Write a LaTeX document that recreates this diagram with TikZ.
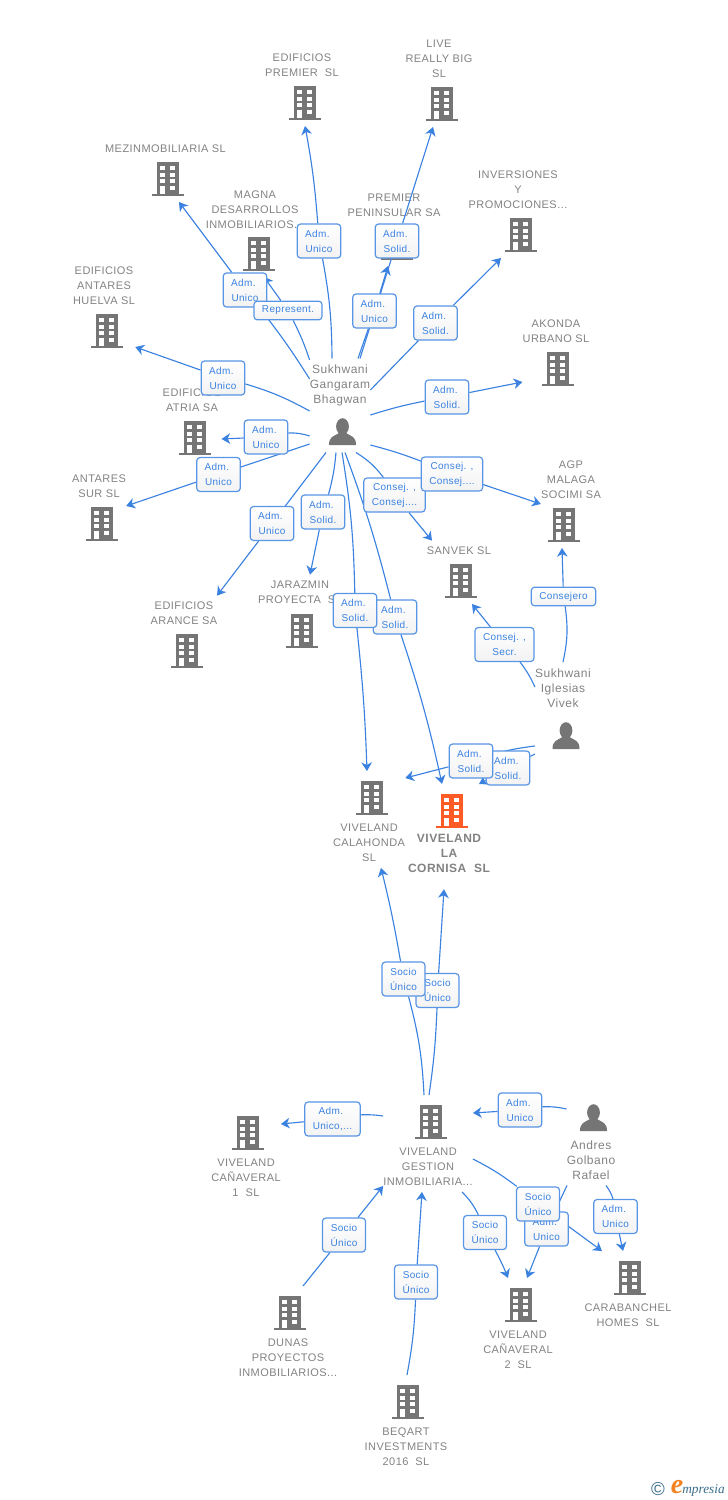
\documentclass[tikz,border=0pt]{standalone}
\usepackage{fontspec}
\usetikzlibrary{arrows.meta,fit,backgrounds}

\newfontfamily\lblfont[LetterSpace=4]{Liberation Sans}
\newfontfamily\whofont[LetterSpace=4.2]{Liberation Sans}
\newfontfamily\tagfont[LetterSpace=3.5]{Liberation Sans}
\newfontfamily\logoserif{Liberation Serif}

\definecolor{iconcol}{HTML}{757575}
\definecolor{hotcol}{HTML}{FF5B27}
\definecolor{lblcol}{HTML}{828282}
\definecolor{linkcol}{HTML}{3B82E0}
\definecolor{logocol}{HTML}{3A6E8C}
\definecolor{logohot}{HTML}{F58220}

\newcommand{\adm}{Adm.\kern2.4pt}

\tikzset{
  namelbl/.style={text=lblcol,align=center,inner xsep=0pt,inner ysep=4.5pt,yshift=-0.6pt,
    font=\lblfont\fontsize{8.25}{11.25}\selectfont},
  wholbl/.style={namelbl,font=\whofont\fontsize{9}{11.25}\selectfont},
  hotlbl/.style={namelbl,inner ysep=12pt,font=\whofont\bfseries\fontsize{9}{11.25}\selectfont},
  hitbox/.style={inner sep=0pt,outer sep=0pt},
  tagnode/.style={draw=linkcol!85,line width=0.9pt,rounded corners=2.5pt,
    top color=white,bottom color=black!5,text=linkcol,align=center,
    inner xsep=6pt,inner ysep=2pt,minimum height=25.5pt,
    font=\tagfont\fontsize{7.5}{11.25}\selectfont},
  link/.style={draw=linkcol,line width=0.85pt},
  linkto/.style={link,-{Stealth[length=6.5pt,width=8pt,inset=2pt]}},
  pics/building/.style={code={
    \fill[#1] (-11,-17) rectangle (11,14.5);
    \fill[#1] (-16,14.5) rectangle (16,17);
    \foreach \wy in {-13,-6.5,0.2}{
      \fill[white] (-8,\wy) rectangle (-2.7,\wy+4);
      \fill[white] (2,\wy) rectangle (7.3,\wy+4);
    }
    \fill[white] (-8,7) rectangle (-2.7,14.5);
    \fill[white] (2,7) rectangle (7.3,11);
    \coordinate (-nw) at (-16,-27);
    \coordinate (-se) at (16,23);
  }},
  pics/building/.default=iconcol,
  pics/person/.style={code={
    \fill[iconcol] (0,-5) ellipse [x radius=6.4,y radius=8.3];
    \fill[iconcol] (-13.5,13.5) .. controls (-13.5,5) and (-9,5) .. (-3.5,1.5)
      -- (3.5,1.5) .. controls (9,5) and (13.5,5) .. (13.5,13.5) -- cycle;
    \coordinate (-nw) at (-13,-24);
    \coordinate (-se) at (13,21);
  }},
}

\newcommand{\company}[5][namelbl]{%
  \pic (#2i) at (#3) {building};
  \node[#1] (#2l) at (#4) {#5};
  \node[fit=(#2i-nw)(#2i-se)(#2l),hitbox] (#2) {};
}
\newcommand{\who}[4]{%
  \pic (#1i) at (#2) {person};
  \node[wholbl] (#1l) at (#3) {#4};
  \node[fit=(#1i-nw)(#1i-se)(#1l),hitbox] (#1) {};
}

\begin{document}
\begin{tikzpicture}[x=0.75pt,y=-0.75pt]
  \useasboundingbox (0,0) rectangle (728,1500);

  % companies and people
  \begin{scope}[on background layer]
    \company{premier}{304.7,103}{302,64.5}{EDIFICIOS\\PREMIER\ \ SL}
    \company{live}{441.5,104}{439,58}{LIVE\\REALLY BIG\\SL}
    \company{mezin}{168,179}{165.5,148}{MEZINMOBILIARIA SL}
    \company{magna}{258.5,254}{255,209}{MAGNA\\DESARROLLOS\\INMOBILIARIOS...}
    \company{huelva}{107,331}{104,285}{EDIFICIOS\\ANTARES\\HUELVA SL}
    \company{peninsular}{397,243}{394,204.5}{PREMIER\\PENINSULAR SA}
    \company{inversiones}{520.5,235}{518,189}{INVERSIONES\\Y\\PROMOCIONES...}
    \company{akonda}{558,369}{556,330.5}{AKONDA\\URBANO SL}
    \company{atria}{195,438}{192,399.5}{EDIFICIOS\\ATRIA SA}
    \company{antares}{102,524}{99,485.5}{ANTARES\\SUR SL}
    \company{arance}{186.5,651}{184,612.5}{EDIFICIOS\\ARANCE SA}
    \company{jarazmin}{301.5,631}{300,591.5}{JARAZMIN\\PROYECTA\ \ SL}
    \company{agp}{564,525}{571,479}{AGP\\MALAGA\\SOCIMI SA}
    \company{sanvek}{461,581}{459,550}{SANVEK SL}
    \company{calahonda}{371.5,798}{369,842}{VIVELAND\\CALAHONDA\\SL}
    \company{gestion}{430.5,1122}{428,1166}{VIVELAND\\GESTION\\INMOBILIARIA...}
    \company{canaverala}{248,1133}{246,1177}{VIVELAND\\CAÑAVERAL\\1\ \ SL}
    \company{canaveralb}{520.5,1305}{518,1349}{VIVELAND\\CAÑAVERAL\\2\ \ SL}
    \company{carabanchel}{630,1278}{628,1314.5}{CARABANCHEL\\HOMES\ \ SL}
    \company{dunas}{290,1313}{288,1357}{DUNAS\\PROYECTOS\\INMOBILIARIOS...}
    \company{beqart}{408,1402}{406,1446}{BEQART\\INVESTMENTS\\2016\ \ SL}
    \pic (cornisai) at (451.5,811) {building=hotcol};
    \node[hotlbl] (cornisal) at (449,853) {VIVELAND\\LA\\CORNISA\ \ SL};
    \node[fit=(cornisai-nw)(cornisai-se)(cornisal),hitbox] (cornisa) {};
    \who{gangaram}{342.5,431.5}{340,384.5}{Sukhwani\\Gangaram\\Bhagwan}
    \who{iglesias}{566,735.5}{563,687}{Sukhwani\\Iglesias\\Vivek}
    \who{golbano}{593.5,1117.5}{591,1159}{Andres\\Golbano\\Rafael}
  \end{scope}

  % tags
  \node[tagnode] (tagpremier) at (319,241) {\adm\\Unico};
  \node[tagnode] (tagmezin) at (245,290) {\adm\\Unico};
  \node[tagnode,minimum height=14pt] (tagmagna) at (288,310.5) {Represent.};
  \node[tagnode] (tagpeninsular) at (374.5,311) {\adm\\Unico};
  \node[tagnode] (taglive) at (397,241) {\adm\\Solid.};
  \node[tagnode] (taginversiones) at (435.5,323) {\adm\\Solid.};
  \node[tagnode] (taghuelva) at (223,378) {\adm\\Unico};
  \node[tagnode] (tagatria) at (266,437) {\adm\\Unico};
  \node[tagnode] (tagantares) at (218.5,474.5) {\adm\\Unico};
  \node[tagnode] (tagarance) at (272,523.5) {\adm\\Unico};
  \node[tagnode] (tagjarazmin) at (323,512) {\adm\\Solid.};
  \node[tagnode] (tagakonda) at (447,397) {\adm\\Solid.};
  \node[tagnode] (tagsanvek) at (394.5,495) {Consej. ,\\Consej....};
  \node[tagnode] (tagagp) at (452,474) {Consej. ,\\Consej....};
  \node[tagnode] (tagcornisa) at (395,617) {\adm\\Solid.};
  \node[tagnode] (tagcalahonda) at (355,610.5) {\adm\\Solid.};
  \node[tagnode] (tagsecr) at (504.5,644.5) {Consej. ,\\Secr.};
  \node[tagnode,minimum height=14pt] (tagconsejero) at (563.5,596.5) {Consejero};
  \node[tagnode] (tagviveb) at (508,768) {\adm\\Solid.};
  \node[tagnode] (tagvivea) at (471,761) {\adm\\Solid.};
  \node[tagnode] (tagsociob) at (437.5,990.5) {Socio\\Único};
  \node[tagnode] (tagsocioa) at (403.5,979) {Socio\\Único};
  \node[tagnode] (tagcanaverala) at (332.5,1119) {\adm\\Unico,...};
  \node[tagnode] (tagandres) at (520,1110) {\adm\\Unico};
  \node[tagnode] (tagdunas) at (344,1235) {Socio\\Único};
  \node[tagnode] (tagbeqart) at (416,1282) {Socio\\Único};
  \node[tagnode] (tagcanaveralb) at (485,1232.5) {Socio\\Único};
  \node[tagnode] (tagrafael) at (546.5,1229) {\adm\\Unico};
  \node[tagnode] (tagcarabanchel) at (538,1204) {Socio\\Único};
  \node[tagnode] (taghomes) at (615.5,1216.5) {\adm\\Unico};

  % connectors
  \begin{scope}[on background layer]
    \draw[link] (gangaram.north -| 332,0) to[bend right=5] (tagpremier);
    \draw[linkto] (tagpremier) to[bend right=3] (premier.south -| 305,0);
    \draw[link] (gangaram.west |- 0,379) to[bend right=3] (tagmezin);
    \draw[linkto] (tagmezin) to (mezin.south -| 179,0);
    \draw[link] (gangaram.west |- 0,360) to[bend right=4] (tagmagna);
    \draw[linkto] (tagmagna) to (magna.south -| 264,0);
    \draw[link] (gangaram.north -| 358,0) to (tagpeninsular);
    \draw[linkto] (tagpeninsular) to (peninsular.south -| 388,0);
    \draw[link] (gangaram.north -| 360,0) to (taglive);
    \draw[linkto] (taglive) to (live.south -| 433,0);
    \draw[link] (gangaram.east |- 0,390) to (taginversiones);
    \draw[linkto] (taginversiones) to (inversiones.south -| 501,0);
    \draw[link] (gangaram.west |- 0,411) to[bend right=6] (taghuelva);
    \draw[linkto] (taghuelva) to (huelva.east |- 0,347);
    \draw[link] (gangaram.west |- 0,436) to[bend right=9] (tagatria);
    \draw[linkto] (tagatria) to (atria.east |- 0,439);
    \draw[link] (gangaram.west |- 0,444) to (tagantares);
    \draw[linkto] (tagantares) to (antares.east |- 0,506);
    \draw[link] (gangaram.south -| 326,0) to (tagarance);
    \draw[linkto] (tagarance) to (arance.north -| 217,0);
    \draw[link] (gangaram.south -| 336,0) to[bend left=5] (tagjarazmin);
    \draw[linkto] (tagjarazmin) to (jarazmin.north -| 310,0);
    \draw[link] (gangaram.east |- 0,415) to[bend left=3] (tagakonda);
    \draw[linkto] (tagakonda) to (akonda.west |- 0,382);
    \draw[link] (gangaram.south -| 356,0) to[bend left=10] (tagsanvek);
    \draw[linkto] (tagsanvek) to (sanvek.north -| 432,0);
    \draw[link] (gangaram.east |- 0,445) to[bend left=3] (tagagp);
    \draw[linkto] (tagagp) to (agp.west |- 0,504);
    \draw[link] (gangaram.south -| 345,0) to[bend left=3] (tagcornisa);
    \draw[linkto] (tagcornisa) to[bend left=3] (cornisa.north -| 442,0);
    \draw[link] (gangaram.south -| 342,0) to[bend left=4] (tagcalahonda);
    \draw[linkto] (tagcalahonda) to[bend left=2] (calahonda.north -| 367,0);
    \draw[link] (iglesias.west |- 0,687) to[bend right=6] (tagsecr);
    \draw[linkto] (tagsecr) to (sanvek.south -| 472,0);
    \draw[link] (iglesias.north -| 563,0) to[bend right=10] (tagconsejero);
    \draw[linkto] (tagconsejero) to (agp.south -| 562,0);
    \draw[link] (iglesias.west |- 0,754) to (tagviveb);
    \draw[linkto] (tagviveb) to (cornisa.north -| 479,0);
    \draw[link] (iglesias.west |- 0,746) to[bend right=4] (tagvivea);
    \draw[linkto] (tagvivea) to (calahonda.east |- 0,778);
    \draw[link] (gestion.north -| 424,0) to[bend right=6] (tagsocioa);
    \draw[linkto] (tagsocioa) to[bend right=2] (calahonda.south -| 381,0);
    \draw[link] (gestion.north -| 429,0) to[bend right=3] (tagsociob);
    \draw[linkto] (tagsociob) to (cornisa.south -| 444,0);
    \draw[link] (gestion.west |- 0,1116) to[bend right=5] (tagcanaverala);
    \draw[linkto] (tagcanaverala) to (canaverala.east |- 0,1124);
    \draw[link] (golbano.west |- 0,1109) to[bend right=7] (tagandres);
    \draw[linkto] (tagandres) to (gestion.east |- 0,1113);
    \draw[link] (dunas.north -| 303,0) to (tagdunas);
    \draw[linkto] (tagdunas) to (gestion.west |- 0,1186);
    \draw[link] (beqart.north -| 407,0) to[bend right=4] (tagbeqart);
    \draw[linkto] (tagbeqart) to (gestion.south -| 422,0);
    \draw[link] (gestion.south -| 462,0) to[bend left=9] (tagcanaveralb);
    \draw[linkto] (tagcanaveralb) to[bend left=3] (canaveralb.north -| 508,0);
    \draw[link] (golbano.south -| 567,0) to (tagrafael);
    \draw[linkto] (tagrafael) to (canaveralb.north -| 527,0);
    \draw[link] (gestion.east |- 0,1159) to[bend left=5] (tagcarabanchel);
    \draw[linkto] (tagcarabanchel) to (carabanchel.north -| 602,0);
    \draw[link] (golbano.south -| 606,0) to[bend left=9] (taghomes);
    \draw[linkto] (taghomes) to (carabanchel.north -| 623,0);
  \end{scope}

  % logo
  \node[text=logocol,inner sep=0pt,font=\whofont\fontsize{14}{14}\selectfont] (logomark) at (658,1489) {©};
  \node[text=logohot,inner sep=0pt,font=\logoserif\itshape\bfseries\fontsize{21}{21}\selectfont] (logoe) at (677,1487) {e};
  \node[text=logocol,inner sep=0pt,anchor=west,font=\logoserif\itshape\fontsize{10}{10}\selectfont] (logoname) at (682,1490) {mpresia};
\end{tikzpicture}
\end{document}
